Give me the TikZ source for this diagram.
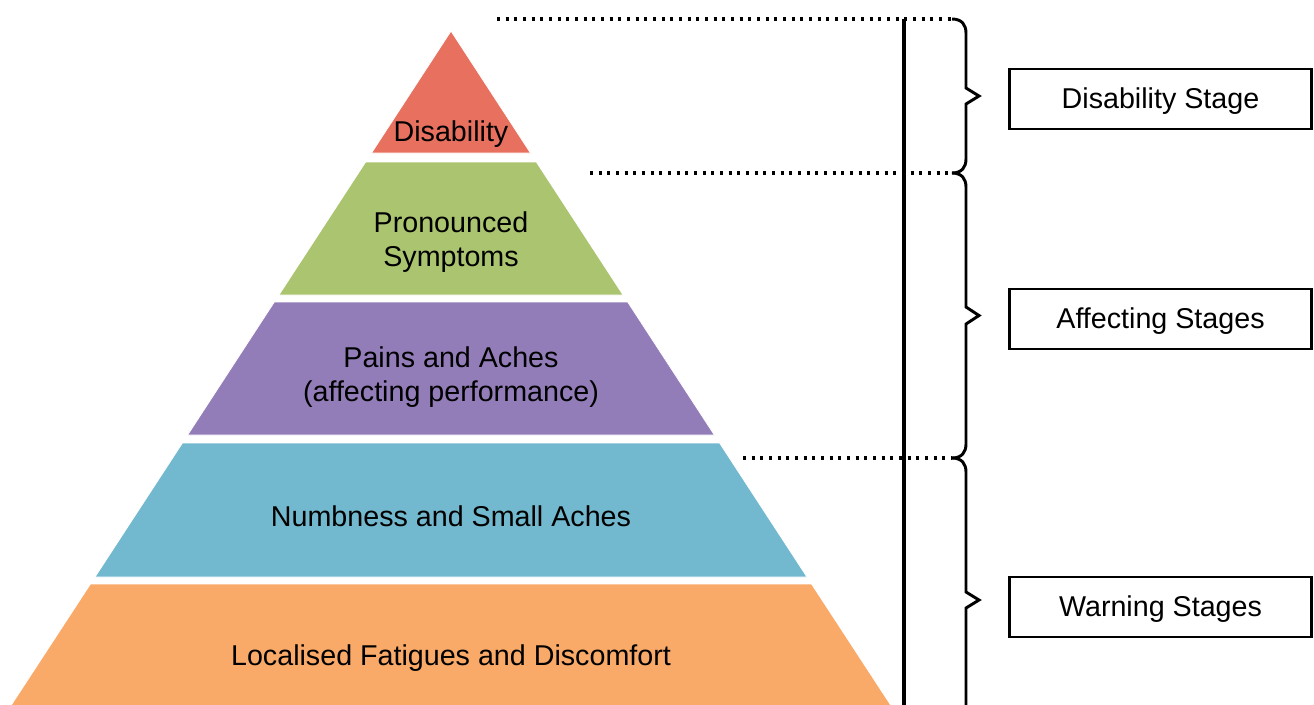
\documentclass[tikz,border=0pt]{standalone}
\usepackage{fontspec}
\setmainfont{Liberation Sans}
\definecolor{lyrRed}{HTML}{E8705F}
\definecolor{lyrGreen}{HTML}{AAC470}
\definecolor{lyrPurple}{HTML}{927DB9}
\definecolor{lyrBlue}{HTML}{72B8CE}
\definecolor{lyrOrange}{HTML}{F9A968}
\begin{document}
\begin{tikzpicture}[x=0.75pt,y=-0.75pt,
  layer/.style={draw=white, line width=0.6pt},
  lbl/.style={font=\fontsize{21.5}{25.5}\selectfont, align=center, text=black, inner sep=0pt},
  stagebox/.style={lbl, draw=black, line width=2.1pt, minimum width=227pt, minimum height=45pt,
    text height=16pt, text depth=2.1pt},
  guide/.style={line width=2.3pt, dash pattern=on 2.3pt off 4.2pt},
  bracket/.style={line width=2.2pt, line join=miter}
]
\useasboundingbox (0,0) rectangle (1314,704);
\clip (0,0) rectangle (1314,704);

% pyramid layers, bottom to top
\fill[lyrOrange, layer] (90.4,584) -- (811.6,584) -- (892,707) -- (10,707) -- cycle;
\fill[lyrBlue, layer] (182.4,443) -- (719.6,443) -- (807,577) -- (95,577) -- cycle;
\fill[lyrPurple, layer] (274.3,302) -- (627.7,302) -- (714.4,435) -- (187.6,435) -- cycle;
\fill[lyrGreen, layer] (365.6,162) -- (536.4,162) -- (623.1,295) -- (278.9,295) -- cycle;
\fill[lyrRed, layer] (451,31) -- (530.5,153) -- (371.5,153) -- cycle;

% layer labels
\node[lbl] (dis) at (451,134) {Disability};
\node[lbl] (pron) at (451,242) {Pronounced\\Symptoms};
\node[lbl] (pain) at (451,377) {Pains and Aches\\(affecting performance)};
\node[lbl] (numb) at (451,516) {Numbness and Small Aches};
\node[lbl] (loc) at (451,658) {Localised Fatigues and Discomfort};

% guide ends and bracket ends
\coordinate (g1) at (497,19);
\coordinate (g2) at (590,173);
\coordinate (g3) at (743,458);
\coordinate (b1) at (952,19);
\coordinate (b2) at (952,173);
\coordinate (b3) at (952,458);
\coordinate (b4) at (952,742);

\draw[guide] (g1) -- (b1);
\draw[guide] (g2) -- (b2);
\draw[guide] (g3) -- (b3);

% vertical divider
\coordinate (vtop) at (904,19);
\coordinate (vbot) at (904,710);
\draw[line width=2.3pt] (vtop) -- (vbot);

% brackets
\draw[bracket] (b1) .. controls (962,19) and (966,25) .. (966,33)
  -- (966,88) -- (979,96) -- (966,104) -- (966,159)
  .. controls (966,167) and (962,173) .. (b2);
\draw[bracket] (b2) .. controls (962,173) and (966,179) .. (966,187)
  -- (966,307) -- (979,315.5) -- (966,324) -- (966,444)
  .. controls (966,452) and (962,458) .. (b3);
\draw[bracket] (b3) .. controls (962,458) and (966,464) .. (966,472)
  -- (966,592) -- (979,600) -- (966,608) -- (966,728)
  .. controls (966,736) and (962,742) .. (b4);

% stage boxes
\node[stagebox] (s1) at (1160.5,99) {Disability Stage};
\node[stagebox] (s2) at (1160.5,319) {Affecting Stages};
\node[stagebox] (s3) at (1160.5,607) {Warning Stages};
\end{tikzpicture}
\end{document}
